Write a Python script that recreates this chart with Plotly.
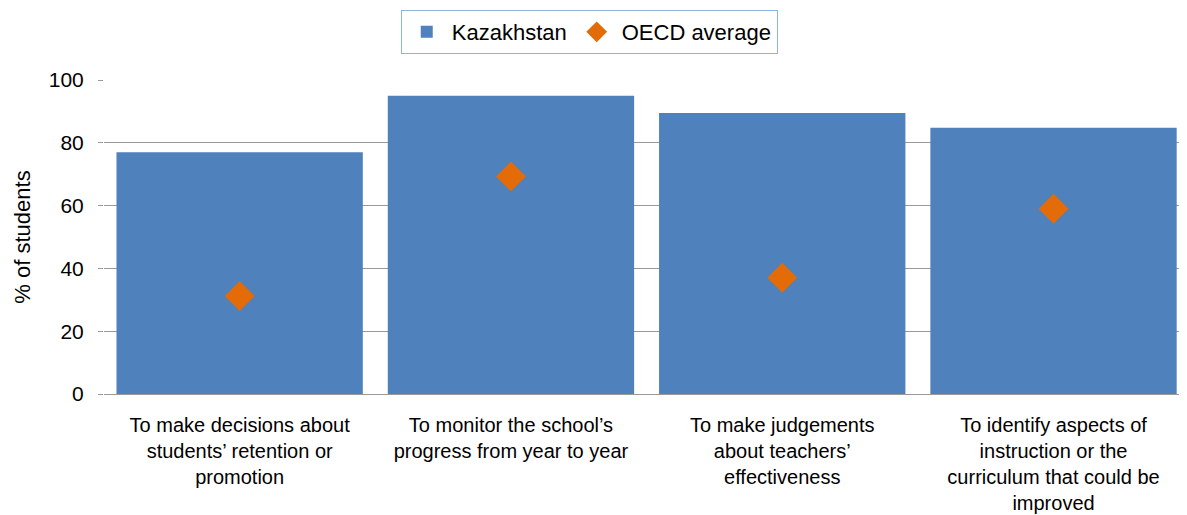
import plotly.graph_objects as go

# Categories (x-axis labels, with manual line breaks as in the original)
categories = [
    "To make decisions about<br>students’ retention or<br>promotion",
    "To monitor the school’s<br>progress from year to year",
    "To make judgements<br>about teachers’<br>effectiveness",
    "To identify aspects of<br>instruction or the<br>curriculum that could be<br>improved",
]

# Series values (% of students)
kazakhstan = [77.0, 95.0, 89.5, 84.8]
oecd_average = [31.2, 69.3, 37.0, 59.0]

y_ticks = [0, 20, 40, 60, 80, 100]

FONT = "Liberation Sans, Arial, sans-serif"

fig = go.Figure()

fig.add_trace(go.Bar(
    x=categories,
    y=kazakhstan,
    name="Kazakhstan",
    marker=dict(color="#4F81BD", line=dict(width=0)),
))

fig.add_trace(go.Scatter(
    x=categories,
    y=oecd_average,
    name="OECD average",
    mode="markers",
    marker=dict(symbol="diamond", size=23, color="#E36C09", line=dict(width=0)),
))

# the page body adds an 8px offset, so the figure is 8px smaller than the window
# the plot area runs off the right edge, as in the original
fig.update_layout(
    width=1179,
    height=507,
    paper_bgcolor="white",
    plot_bgcolor="white",
    margin=dict(l=96, r=0, t=72, b=121, autoexpand=False),
    bargap=0.092,
    font=dict(family=FONT, size=21, color="#000000"),
    legend=dict(
        orientation="h",
        xref="container",
        yref="container",
        x=0.493,
        xanchor="center",
        y=0.996,
        yanchor="top",
        bordercolor="#8EB4E3",
        borderwidth=1,
        font=dict(size=22),
        itemwidth=40,
    ),
    xaxis=dict(
        range=[-0.5, 3.492],
        showgrid=False,
        showline=True,
        linecolor="#9A9A9A",
        linewidth=1,
        ticks="",
        tickfont=dict(size=20),
        ticklabelstandoff=13,
    ),
    yaxis=dict(
        range=[0, 100],
        tickvals=y_ticks,
        showgrid=True,
        gridcolor="#999999",
        gridwidth=1,
        zeroline=False,
        showline=False,
        ticks="outside",
        ticklen=5,
        tickcolor="#999999",
        tickfont=dict(size=21),
        ticklabelstandoff=10,
        title=dict(text="% of students", font=dict(size=22), standoff=12),
    ),
)

fig.write_html("out.html")
